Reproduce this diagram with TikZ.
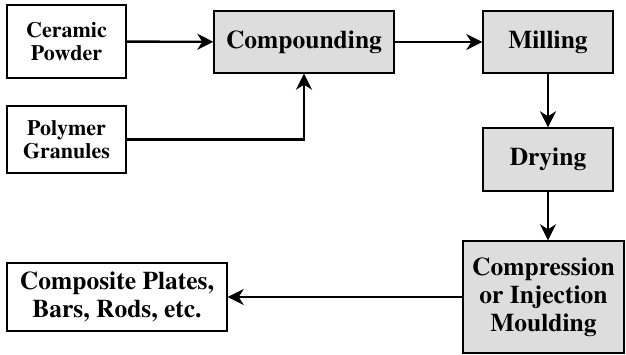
\documentclass[tikz,border=0pt]{standalone}
\usepackage[T1]{fontenc}
\renewcommand{\rmdefault}{ptm}
\usetikzlibrary{arrows.meta, positioning}

\tikzset{
  stage/.style={draw, line width=1.4pt, fill=gray!27, align=center,
    font=\rmfamily\bfseries\fontsize{25.5}{28}\selectfont, inner sep=0pt},
  input/.style={stage, fill=white, font=\rmfamily\bfseries\fontsize{22}{23.5}\selectfont},
  flow/.style={line width=2.4pt, -{Stealth[length=16pt, width=16pt, inset=5pt]}}
}

\begin{document}
\begin{tikzpicture}[x=1pt, y=-1pt]
      \useasboundingbox (0,0) rectangle (626,354);
      \node[input, minimum width=119pt, minimum height=73pt] (ceramic) at (66.5,41.5) {Ceramic\\Powder};
      \node[input, minimum width=119pt, minimum height=67pt] (polymer) at (66.5,139.5) {Polymer\\Granules};
      \node[stage, minimum width=180pt, minimum height=62pt] (compound) at (304,42) {Compounding};
      \node[stage, minimum width=130pt, minimum height=62pt] (milling) at (548,42) {Milling};
      \node[stage, minimum width=130pt, minimum height=63pt] (drying) at (548,159.5) {Drying};
      \node[stage, minimum width=161pt, minimum height=112pt] (moulding) at (543.5,297) {Compression\\or Injection\\Moulding};
      \node[input, minimum width=220pt, minimum height=68pt,
        font=\rmfamily\bfseries\fontsize{25.5}{28}\selectfont] (product) at (117,297) {Composite Plates,\\Bars, Rods, etc.};
      \draw[flow] (ceramic) -- (compound);
      \draw[flow] (polymer.east) -| (compound.south);
      \draw[flow] (compound) -- (milling);
      \draw[flow] (milling) -- (drying);
      \draw[flow] (drying.south) -- (drying.south |- moulding.north);
      \draw[flow] (moulding) -- (product);
    \end{tikzpicture}
\end{document}
